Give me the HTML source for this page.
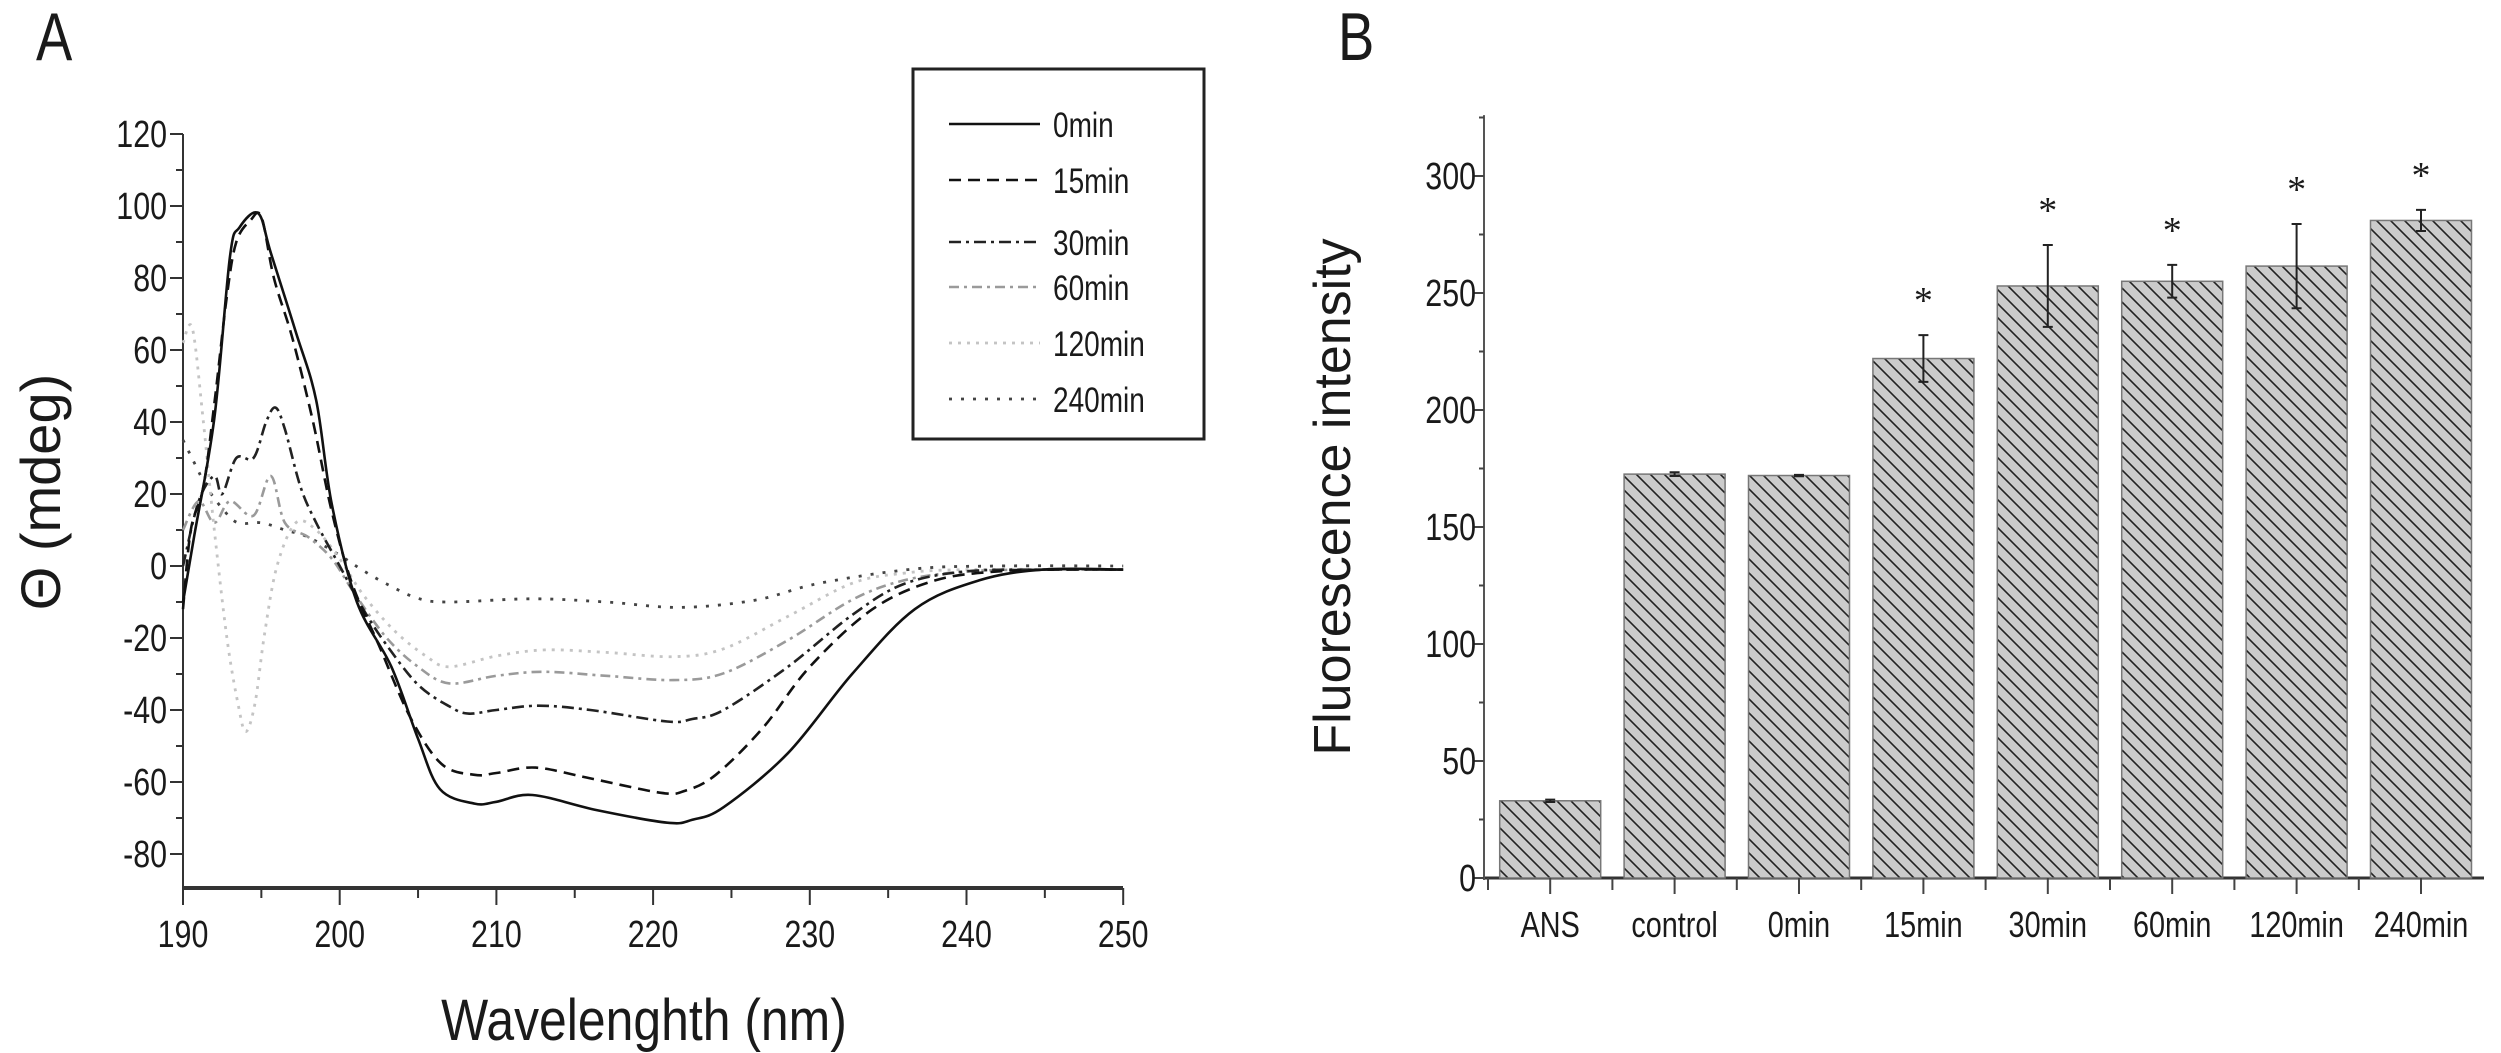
<!DOCTYPE html>
<html><head><meta charset="utf-8"><style>
html,body{margin:0;padding:0;background:#fff;}
svg{display:block;}
text{font-family:"Liberation Sans Narrow","Liberation Sans",sans-serif;fill:#1a1a1a;}
.big{font-family:"Liberation Sans",sans-serif;}
</style></head><body>
<svg id="fig" width="2501" height="1053" viewBox="0 0 2501 1053" xmlns="http://www.w3.org/2000/svg">
<defs>
<pattern id="hatch" patternUnits="userSpaceOnUse" width="14" height="14">
<rect width="14" height="14" fill="#cbcbcb"/>
<path d="M-1,-1 L15,15 M-8,6 L8,22 M6,-8 L22,8" stroke="#222" stroke-width="1.6"/>
</pattern>
</defs>
<text class="nar" x="36" y="60" font-size="68">A</text>
<text class="nar" x="1338" y="60" font-size="68">B</text>
<g id="cd"></g>
<g id="bars"></g>
</svg>
<script>
// ---- Panel A data ----
const xTicksA = [190,200,210,220,230,240,250];
const yTicksA = [120,100,80,60,40,20,0,-20,-40,-60,-80];
const seriesNames = ["0min","15min","30min","60min","120min","240min"];
const s0 = [[190,-10],[190.7,8],[192,41],[193,86],[193.6,94],[194.8,98],[195.6,87],[197.2,65],[198.5,46],[199.5,17],[201.1,-10],[203.3,-28],[205,-48],[206.4,-62],[208.6,-66],[210,-65.5],[212.3,-63.6],[216.4,-67.8],[220.9,-71.3],[222.5,-70.5],[224.5,-67],[228.6,-52],[232.7,-30],[236.7,-12],[240.8,-4],[244.9,-1],[250,-1]];
const s15 = [[190,-12],[190.5,10],[191.3,22],[192,45],[192.8,75],[193.4,90],[194.3,96],[195,97],[195.8,80],[197,63],[198.3,40],[199.5,15],[200.8,-5],[202.5,-22],[204.5,-42],[206.5,-55],[208.6,-58],[210,-57.5],[212.5,-56],[216,-59],[220.5,-63],[222,-62.5],[224,-58],[227,-45],[230,-28],[234,-12],[238,-4],[242,-1.5],[246,-1],[250,-1]];
const s30 = [[190,0],[191,18],[192,25],[192.5,20],[193.4,30],[194.5,30],[195.3,40],[195.9,44],[196.5,38],[197.5,22],[198.5,12],[200,0],[201.5,-12],[203,-22],[205,-33],[207,-39],[208.2,-41],[210,-40],[212.7,-38.8],[216,-40],[220.9,-43.2],[222.5,-42.5],[224.5,-40],[228.6,-28],[232.7,-13.6],[236,-5],[240,-1.5],[245,-1],[250,-1]];
const s60 = [[190,10],[191,18],[192,12],[193,18],[194.5,14],[195.6,25],[196.5,12],[198,8],[199.5,2],[201,-8],[203,-20],[205,-28],[207,-32.6],[210,-30.5],[213,-29.4],[217,-30.5],[221.3,-31.7],[224.5,-29.8],[228.6,-20.6],[232.7,-9.4],[236,-4],[240,-1.5],[245,-1],[250,-1]];
const s120 = [[190,62],[190.6,66],[191.3,40],[192,10],[192.8,-20],[193.5,-38],[194,-46],[194.6,-38],[195.2,-19],[196,0],[197.2,12],[198.5,10],[200,2],[201.5,-8],[203.5,-18],[205.5,-25],[207,-28],[210,-25],[213.1,-23.3],[217,-24],[221.3,-25.2],[224.5,-23],[228.6,-14],[232.7,-4.8],[236,-2],[240,-1],[250,-1]];
const s240 = [[190,35],[190.8,28],[191.5,22],[192.5,16],[193.5,12],[195,12],[196.5,10],[198,8],[200,3],[201.4,-1],[203,-5],[205,-9],[207,-10],[212.3,-9.1],[217,-10],[221.7,-11.5],[226.5,-9.5],[230.6,-4.8],[236.7,-0.8],[242,0],[250,0]];
// ---- Panel B data ----
const categories = ["ANS","control","0min","15min","30min","60min","120min","240min"];
const barValues = [33,172.6,172,222,253,255,261.5,281];
const barErrors = [0.5,0.8,0.3,10,17.5,7,18,4.5];
const barStars = [false,false,false,true,true,true,true,true];
const yTicksB = [0,50,100,150,200,250,300];

const NS="http://www.w3.org/2000/svg";
function mk(tag,attrs,parent){const e=document.createElementNS(NS,tag);for(const k in attrs)e.setAttribute(k,attrs[k]);parent.appendChild(e);return e;}

const xA = w => 183 + (w-190)*15.67;
const yA = v => 566 - v*3.6;
const gA=document.getElementById('cd');
let ax=mk('line',{x1:183,y1:888,x2:1123,y2:888,stroke:'#333','stroke-width':4},gA);


let ay=mk('line',{x1:183,y1:yA(120),x2:183,y2:888,stroke:'#333','stroke-width':2},gA);


for(let w=190;w<=250;w+=5){
  const l=mk('line',{x1:xA(w),y1:888,x2:xA(w),y2:w%10===0?905:898,stroke:'#333','stroke-width':2},gA);
  
  
}
xTicksA.forEach(w=>{const t=mk('text',{class:'nar',x:xA(w),y:947,'font-size':38,'text-anchor':'middle'},gA);t.textContent=w;
  
  });
for(let v=-80;v<=120;v+=10){
  const l=mk('line',{x1:v%20===0?170:176,y1:yA(v),x2:183,y2:yA(v),stroke:'#333','stroke-width':2},gA);
  
  
}
yTicksA.forEach(v=>{const t=mk('text',{class:'nar',x:167,y:yA(v)+13,'font-size':38,'text-anchor':'end'},gA);t.textContent=v;
  
  });
let xl=mk('text',{class:'nar2',x:644,y:1040,'font-size':58,'text-anchor':'middle'},gA);xl.textContent='Wavelenghth (nm)';


let yl=mk('text',{x:0,y:0,'font-size':56,'text-anchor':'middle',class:'big',transform:'translate(60,492) rotate(-90)'},gA);yl.textContent='Θ (mdeg)';



const styles=[
 {stroke:'#111',dash:'none',w:2.6},
 {stroke:'#111',dash:'12,7',w:2.6},
 {stroke:'#222',dash:'12,5,3,5',w:2.6},
 {stroke:'#9a9a9a',dash:'10,5,3,5',w:2.6},
 {stroke:'#c4c4c4',dash:'3,6',w:2.8},
 {stroke:'#444',dash:'3,9',w:2.8}];
const allSeries=[s0,s15,s30,s60,s120,s240];
function smooth(pts){
  const p=pts.map(d=>[xA(d[0]),yA(d[1])]);
  let d='M'+p[0][0].toFixed(1)+','+p[0][1].toFixed(1);
  for(let i=0;i<p.length-1;i++){
    const p0=p[Math.max(0,i-1)],p1=p[i],p2=p[i+1],p3=p[Math.min(p.length-1,i+2)];
    const c1=[p1[0]+(p2[0]-p0[0])/6,p1[1]+(p2[1]-p0[1])/6];
    const c2=[p2[0]-(p3[0]-p1[0])/6,p2[1]-(p3[1]-p1[1])/6];
    d+=` C${c1[0].toFixed(1)},${c1[1].toFixed(1)} ${c2[0].toFixed(1)},${c2[1].toFixed(1)} ${p2[0].toFixed(1)},${p2[1].toFixed(1)}`;
  }
  return d;
}
for(let i=allSeries.length-1;i>=0;i--){
  const s=styles[i];
  const p=mk('path',{d:smooth(allSeries[i]),fill:'none',stroke:s.stroke,'stroke-width':s.w,'stroke-dasharray':s.dash},gA);
  
  
}
const lg=mk('g',{},gA);


mk('rect',{x:913,y:69,width:291,height:370,fill:'#fff',stroke:'#222','stroke-width':3},lg);
const lgY=[137,193,255,300,356,412];
seriesNames.forEach((n,i)=>{
  const s=styles[i];
  const l=mk('line',{x1:949,y1:lgY[i]-13,x2:1040,y2:lgY[i]-13,stroke:s.stroke,'stroke-width':s.w,'stroke-dasharray':s.dash},lg);
  
  
  const t=mk('text',{class:'nar',x:1053,y:lgY[i],'font-size':35},lg);t.textContent=n;
  
  
});

const gB=document.getElementById('bars');
const yB=v=>878-v*2.34;
const bandStart=1488, band=124.4, bw=101;
const xB=i=>bandStart+band*i+(band-bw)/2;
let bx=mk('line',{x1:1484,y1:878,x2:2484,y2:878,stroke:'#333','stroke-width':3},gB);


let by=mk('line',{x1:1484,y1:yB(326),x2:1484,y2:880,stroke:'#555','stroke-width':2},gB);


for(let v=0;v<=325;v+=25){
  const l=mk('line',{x1:v%50===0?1474:1479,y1:yB(v),x2:1484,y2:yB(v),stroke:'#444','stroke-width':2},gB);
  
  
}
yTicksB.forEach(v=>{const t=mk('text',{class:'nar',x:1476,y:yB(v)+13,'font-size':38,'text-anchor':'end'},gB);t.textContent=v;
  
  });
let byl=mk('text',{x:0,y:0,'font-size':52,'text-anchor':'middle',class:'big',transform:'translate(1350,497) rotate(-90)'},gB);byl.textContent='Fluorescence intensity';


categories.forEach((c,i)=>{
  const x=xB(i), cx=x+bw/2, top=yB(barValues[i]);
  const r=mk('rect',{x:x,y:top,width:bw,height:878-top,fill:'url(#hatch)',stroke:'#777','stroke-width':1.5},gB);
  
  
  const e1=yB(barValues[i]+barErrors[i]), e2=yB(barValues[i]-barErrors[i]);
  const eb=mk('path',{d:`M${cx},${e1} L${cx},${e2} M${cx-5},${e1} L${cx+5},${e1} M${cx-5},${e2} L${cx+5},${e2}`,stroke:'#222','stroke-width':2,fill:'none'},gB);
  
  
  if(barStars[i]){
    const s=mk('text',{x:cx,y:e1-22,'font-size':38,'text-anchor':'middle',style:'font-family:"Liberation Serif",serif'},gB);s.textContent='*';
    
    
  }
  const tk=mk('line',{x1:cx,y1:878,x2:cx,y2:894,stroke:'#444','stroke-width':2},gB);
  
  
  const tb=mk('line',{x1:bandStart+band*i,y1:878,x2:bandStart+band*i,y2:890,stroke:'#444','stroke-width':2},gB);
  
  
  const t=mk('text',{class:'nar',x:cx,y:937,'font-size':36,'text-anchor':'middle'},gB);t.textContent=c;
  
  
});
document.querySelectorAll('text.nar').forEach(t=>{
  const len=t.getComputedTextLength();
  if(len>0){t.setAttribute('textLength',(len*0.8).toFixed(1));t.setAttribute('lengthAdjust','spacingAndGlyphs');}
});
document.querySelectorAll('text.nar2').forEach(t=>{
  const len=t.getComputedTextLength();
  if(len>0){t.setAttribute('textLength',(len*0.86).toFixed(1));t.setAttribute('lengthAdjust','spacingAndGlyphs');}
});
</script>
</body></html>
